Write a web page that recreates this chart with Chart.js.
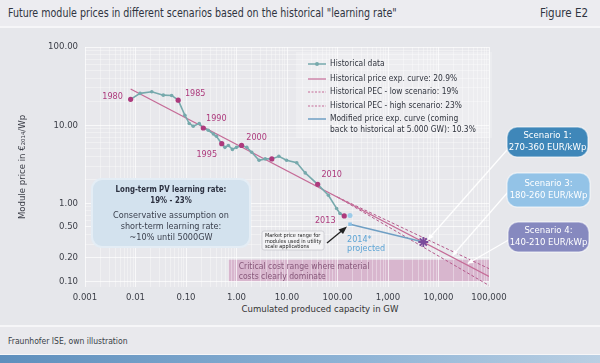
<!DOCTYPE html>
<html>
<head>
<meta charset="utf-8">
<script src="https://cdn.jsdelivr.net/npm/chart.js@4"></script>
<style>
  body { margin: 0; width: 600px; height: 363px; overflow: hidden; background: #e6e7eb;
         font-family: "Liberation Sans Narrow", "DejaVu Sans Condensed", Roboto, sans-serif; position: relative; }
  #head { position: absolute; left: 0; top: 0; width: 600px; height: 26px; background: #ececf0; border-bottom: 2px solid #f6f6f8; }
  #title { position: absolute; left: 8px; top: 6px; font-size: 11.5px; color: #2f3440; transform: scaleX(0.92); transform-origin: left; white-space: nowrap; }
  #fig { position: absolute; right: 12px; top: 6px; font-size: 11.5px; color: #2f3440; }
  #xtitle { position: absolute; left: 220px; width: 200px; top: 303px; text-align: center; font-size: 9.5px; color: #333; }
  #foot { position: absolute; left: 0; top: 325px; width: 600px; height: 27px; background: #e9e9ed; border-top: 2px solid #f6f6f8; border-bottom: 2px solid #f6f6f8; }
  #foot span { position: absolute; left: 8px; top: 9px; font-size: 8.5px; color: #3a3f48; }
  #strip { position: absolute; left: 0; top: 355px; width: 600px; height: 8px; background: linear-gradient(90deg, #5e8fbd, #8fb4d6 60%, #b9cfe3); }
  canvas { position: absolute; left: 0; top: 0; }
</style>
</head>
<body>
<div id="head"><div id="title">Future module prices in different scenarios based on the historical "learning rate"</div><div id="fig">Figure E2</div></div>
<div id="xtitle">Cumulated produced capacity in GW</div>
<div id="foot"><span>Fraunhofer ISE, own illustration</span></div>
<div id="strip"></div>
<canvas id="chart" width="600" height="363"></canvas>
<script>
// historical module prices (cumulated GW, EUR2014/Wp)
const histX = [0.008, 0.0123, 0.021, 0.0355, 0.052, 0.070, 0.095, 0.116, 0.139, 0.183, 0.22, 0.276, 0.35, 0.40,
               0.51, 0.59, 0.69, 0.83, 1.0, 1.26, 1.6, 2.0, 2.8, 3.7, 5.0, 6.9, 9.8, 15.6, 23, 40.5, 66, 96, 112, 136];
const histY = [21.4, 25.5, 26.7, 24.2, 24, 20.9, 13.4, 10.5, 9.7, 10.5, 9.2, 8.6, 7.7, 7.2,
               5.8, 5.2, 5.5, 4.9, 5.2, 5.5, 5.2, 4.5, 3.55, 3.7, 3.7, 4.0, 3.55, 3.3, 2.45, 1.75, 1.27, 0.86, 0.74, 0.69];
const yearIdx = [0, 5, 10, 14, 19, 24, 29, 33];
const yearText = ['1980', '1985', '1990', '1995', '2000', '', '2010', '2013'];
const yearDx = [-18, 17, 13, -15, 15, 0, 14, -19];
const yearDy = [-3, -6, -9, 11, -8, 0, -10, 5];

// price experience curves
const pecX = [0.008, 100000];
const pecY = [29, 0.116];
const lowX = [100, 100000];
const lowY = [1.2, 0.146];
const highX = [100, 100000];
const highY = [1.2, 0.089];
const modX = [177, 5000];
const modY = [0.54, 0.32];
const marketX = [177];
const marketY = [0.70];

// critical cost range
const critX = [0.7, 100000];
const critY = [0.1, 0.19];

// scenarios
const scenTitle = ['Scenario 1:', 'Scenario 3:', 'Scenario 4:'];
const scenRange = ['270-360 EUR/kWp', '180-260 EUR/kWp', '140-210 EUR/kWp'];
const scenX = [6200, 19000, 38000];
const scenY = [0.345, 0.215, 0.17];

const xMajor = [0.001, 0.01, 0.1, 1, 10, 100, 1000, 10000, 100000];
const xLabels = ['0.001', '0.01', '0.10', '1.00', '10.00', '100.00', '1,000', '10,000', '100,000'];
const yMajor = [0.1, 0.2, 0.5, 1, 10, 100];
const yLabels = ['0.10', '0.20', '0.50', '1.00', '10.00', '100.00'];

const FONT = '"Liberation Sans Narrow", "DejaVu Sans Condensed", Roboto, sans-serif';
const pts = (xs, ys) => xs.map((x, i) => ({ x: x, y: ys[i] }));

function minorTicks(from, to) {
  const out = [];
  for (let d = from; d < to * 1.001; d *= 10) {
    for (let m = 1; m <= 9; m++) if (d * m <= to * 1.001) out.push(d * m);
  }
  return out;
}
function labelFor(v, majors, labels) {
  for (let i = 0; i < majors.length; i++) if (Math.abs(v / majors[i] - 1) < 1e-6) return labels[i];
  return '';
}

const colTeal = '#76a9ac';
const colYear = '#ad3a7d';
const colPec = '#c56b97';

function rrect(ctx, x, y, w, h, r) {
  ctx.beginPath();
  ctx.roundRect(x, y, w, h, r);
}
// text with optional horizontal squeeze
function txt(ctx, s, x, y, size, color, align, weight, sx) {
  ctx.save();
  ctx.font = (weight || 'normal') + ' ' + size + 'px ' + FONT;
  ctx.fillStyle = color;
  ctx.textAlign = align || 'left';
  ctx.textBaseline = 'middle';
  ctx.translate(x, y);
  ctx.scale(sx || 1, 1);
  ctx.fillText(s, 0, 0);
  ctx.restore();
}

const decor = {
  id: 'decor',
  beforeDraw(chart) {
    const { ctx, chartArea: a, scales: { x, y } } = chart;
    ctx.save();
    ctx.fillStyle = '#e8e8ec';
    ctx.fillRect(a.left, a.top, a.right - a.left, a.bottom - a.top);
    // critical cost range
    const cx0 = x.getPixelForValue(critX[0]), cx1 = x.getPixelForValue(critX[1]);
    const cy0 = y.getPixelForValue(critY[1]), cy1 = y.getPixelForValue(critY[0]);
    ctx.fillStyle = '#d8b6ce';
    ctx.fillRect(cx0, cy0, cx1 - cx0, cy1 - cy0);
    ctx.restore();
  },
  afterDraw(chart) {
    const { ctx, scales: { x, y } } = chart;
    ctx.save();
    // critical text
    const cx0 = x.getPixelForValue(critX[0]);
    const cy0 = y.getPixelForValue(critY[1]);
    txt(ctx, 'Critical cost range where material', cx0 + 10, cy0 + 7, 9.5, '#87587a', 'left', 'normal', 0.9);
    txt(ctx, 'costs clearly dominate', cx0 + 10, cy0 + 17, 9.5, '#87587a', 'left', 'normal', 0.9);

    // year labels
    yearIdx.forEach((k, i) => {
      if (!yearText[i]) return;
      const px = x.getPixelForValue(histX[k]), py = y.getPixelForValue(histY[k]);
      txt(ctx, yearText[i], px + yearDx[i], py + yearDy[i], 9, colYear, 'center');
    });
    // 2014 projected
    const p14x = x.getPixelForValue(modX[0]), p14y = y.getPixelForValue(modY[0]);
    txt(ctx, '2014*', p14x - 3, p14y + 15, 9, '#5ea5d5');
    txt(ctx, 'projected', p14x - 3, p14y + 24, 9, '#5ea5d5');

    // market price box + arrow
    ctx.fillStyle = '#f3f3f5';
    ctx.strokeStyle = '#c9c9cf';
    ctx.lineWidth = 0.8;
    rrect(ctx, 262, 231, 62, 19, 2);
    ctx.fill(); ctx.stroke();
    txt(ctx, 'Market price range for', 265, 236, 5.5, '#222');
    txt(ctx, 'modules used in utility', 265, 241.5, 5.5, '#222');
    txt(ctx, 'scale applications', 265, 247, 5.5, '#222');
    ctx.strokeStyle = '#222';
    ctx.lineWidth = 1.3;
    ctx.beginPath(); ctx.moveTo(327, 243); ctx.lineTo(344, 229); ctx.stroke();
    ctx.fillStyle = '#222';
    ctx.beginPath(); ctx.moveTo(347, 226.5); ctx.lineTo(338.5, 229.5); ctx.lineTo(343, 234); ctx.closePath(); ctx.fill();

    // info box
    ctx.fillStyle = '#d3e2ee';
    ctx.strokeStyle = '#e4edf5';
    ctx.lineWidth = 2;
    rrect(ctx, 92, 179, 158, 68, 10);
    ctx.fill(); ctx.stroke();
    txt(ctx, 'Long-term PV learning rate:', 171, 190, 9.5, '#2c3140', 'center', 'bold', 0.82);
    txt(ctx, '19% - 23%', 171, 201, 9.5, '#2c3140', 'center', 'bold', 0.82);
    txt(ctx, 'Conservative assumption on', 171, 216, 9.5, '#3a3f4c', 'center', 'normal', 0.95);
    txt(ctx, 'short-term learning rate:', 171, 227, 9.5, '#3a3f4c', 'center', 'normal', 0.95);
    txt(ctx, '~10% until 5000GW', 171, 238, 9.5, '#3a3f4c', 'center', 'normal', 0.95);

    // legend
    ctx.fillStyle = 'rgba(255,255,255,0.22)';
    ctx.fillRect(296, 52, 196, 86);
    const leg = [
      ['Historical data', colTeal, [], 1.5, true],
      ['Historical price exp. curve: 20.9%', colPec, [], 1.2, false],
      ['Historical PEC - low scenario: 19%', colPec, [2, 1.5], 1, false],
      ['Historical PEC - high scenario: 23%', colPec, [2, 1.5], 1, false],
      ['Modified price exp. curve (coming', '#6f9fc4', [], 1.5, false]
    ];
    const legY = [64, 79, 92, 106, 119];
    leg.forEach((l, i) => {
      ctx.strokeStyle = l[1];
      ctx.lineWidth = l[3];
      ctx.setLineDash(l[2]);
      ctx.beginPath(); ctx.moveTo(308, legY[i]); ctx.lineTo(326, legY[i]); ctx.stroke();
      ctx.setLineDash([]);
      if (l[4]) {
        ctx.fillStyle = l[1];
        ctx.beginPath(); ctx.arc(317, legY[i], 2, 0, Math.PI * 2); ctx.fill();
      }
      txt(ctx, l[0], 330, legY[i], 9.5, '#30343e', 'left', 'normal', 0.88);
    });
    txt(ctx, 'back to historical at 5.000 GW): 10.3%', 330, 130, 9.5, '#30343e', 'left', 'normal', 0.88);

    // scenario boxes
    const boxes = [[507, 127, 81, 30, '#3f87b9'], [507, 173, 83, 34, '#93c3e7'], [508, 222, 81, 30, '#8689bf']];
    const starts = [[507, 150], [508, 192], [512, 238]];
    boxes.forEach((b, i) => {
      // pointer line
      const tx = x.getPixelForValue(scenX[i]), ty = y.getPixelForValue(scenY[i]);
      ctx.strokeStyle = 'rgba(255,255,255,0.95)';
      ctx.lineWidth = 1.3;
      ctx.beginPath(); ctx.moveTo(starts[i][0], starts[i][1]); ctx.lineTo(tx, ty); ctx.stroke();
      const ang = Math.atan2(ty - starts[i][1], tx - starts[i][0]);
      ctx.fillStyle = '#ffffff';
      ctx.beginPath();
      ctx.moveTo(tx, ty);
      ctx.lineTo(tx - 6 * Math.cos(ang - 0.45), ty - 6 * Math.sin(ang - 0.45));
      ctx.lineTo(tx - 6 * Math.cos(ang + 0.45), ty - 6 * Math.sin(ang + 0.45));
      ctx.closePath(); ctx.fill();
      // box
      ctx.fillStyle = b[4];
      ctx.strokeStyle = 'rgba(255,255,255,0.5)';
      ctx.lineWidth = 1.5;
      rrect(ctx, b[0], b[1], b[2], b[3], 10);
      ctx.fill(); ctx.stroke();
      const mx = b[0] + b[2] / 2, my = b[1] + b[3] / 2;
      txt(ctx, scenTitle[i], mx, my - 6, 9.5, '#ffffff', 'center');
      txt(ctx, scenRange[i], mx, my + 6, 9.5, '#ffffff', 'center');
    });
    ctx.restore();
  }
};

const xTickVals = minorTicks(0.001, 100000);
const yTickVals = minorTicks(0.1, 100);

new Chart(document.getElementById('chart'), {
  type: 'line',
  data: {
    datasets: [
      {
        label: 'Historical data',
        data: pts(histX, histY),
        borderColor: colTeal,
        borderWidth: 1.6,
        pointRadius: ctx => yearIdx.includes(ctx.dataIndex) ? 2.6 : 1.8,
        pointBackgroundColor: ctx => yearIdx.includes(ctx.dataIndex) ? colYear : colTeal,
        pointBorderWidth: 0
      },
      {
        label: 'Market price',
        data: pts(marketX, marketY),
        showLine: false,
        pointRadius: 2.5,
        pointBackgroundColor: '#9ccbe9',
        pointBorderWidth: 0
      },
      {
        label: 'Modified price exp. curve',
        data: pts(modX, modY),
        borderColor: '#6f9fc4',
        borderWidth: 1.6,
        pointStyle: ['rect', 'star'],
        pointRadius: [2.5, 5],
        pointBackgroundColor: ['#8cc1e6', '#7a4b9b'],
        pointBorderColor: ['#8cc1e6', '#7a4b9b'],
        pointBorderWidth: [0, 1.8]
      },
      {
        label: 'Historical price exp. curve: 20.9%',
        data: pts(pecX, pecY),
        borderColor: colPec,
        borderWidth: 1.3,
        pointRadius: 0
      },
      {
        label: 'Historical PEC - low scenario: 19%',
        data: pts(lowX, lowY),
        borderColor: '#b55a8c',
        borderWidth: 1,
        borderDash: [3, 2],
        pointRadius: 0
      },
      {
        label: 'Historical PEC - high scenario: 23%',
        data: pts(highX, highY),
        borderColor: '#b55a8c',
        borderWidth: 1,
        borderDash: [3, 2],
        pointRadius: 0
      }
    ]
  },
  options: {
    responsive: false,
    animation: false,
    events: [],
    layout: { padding: { top: 47, right: 111, bottom: 43, left: 0 } },
    plugins: { legend: { display: false }, tooltip: { enabled: false } },
    scales: {
      x: {
        type: 'logarithmic',
        min: 0.001,
        max: 100000,
        afterBuildTicks: s => { s.ticks = xTickVals.map(v => ({ value: v })); },
        afterFit: s => { s.height = 33; },
        border: { display: false },
        grid: {
          drawTicks: false,
          color: c => labelFor(c.tick.value, xMajor, xLabels) ? 'rgba(255,255,255,0.7)' : 'rgba(255,255,255,0.35)',
          lineWidth: 1
        },
        ticks: {
          autoSkip: false,
          maxRotation: 0,
          padding: 5,
          color: '#3c3f48',
          font: { family: FONT, size: 9.5 },
          callback: v => labelFor(v, xMajor, xLabels)
        }
      },
      y: {
        type: 'logarithmic',
        min: 0.085,
        max: 100,
        afterBuildTicks: s => { s.ticks = yTickVals.map(v => ({ value: v })); },
        afterFit: s => { s.width = 85; },
        border: { display: false },
        grid: {
          drawTicks: false,
          color: c => labelFor(c.tick.value, yMajor, yLabels) ? 'rgba(255,255,255,0.7)' : 'rgba(255,255,255,0.35)',
          lineWidth: 1
        },
        ticks: {
          autoSkip: false,
          padding: 7,
          color: '#3c3f48',
          font: { family: FONT, size: 9.5 },
          callback: v => labelFor(v, yMajor, yLabels)
        },
        title: {
          display: true,
          text: 'Module price in €₂₀₁₄/Wp',
          color: '#3c3f48',
          font: { family: FONT, size: 9.5 },
          padding: { top: 17, bottom: 0 }
        }
      }
    }
  },
  plugins: [decor]
});
</script>
</body>
</html>
